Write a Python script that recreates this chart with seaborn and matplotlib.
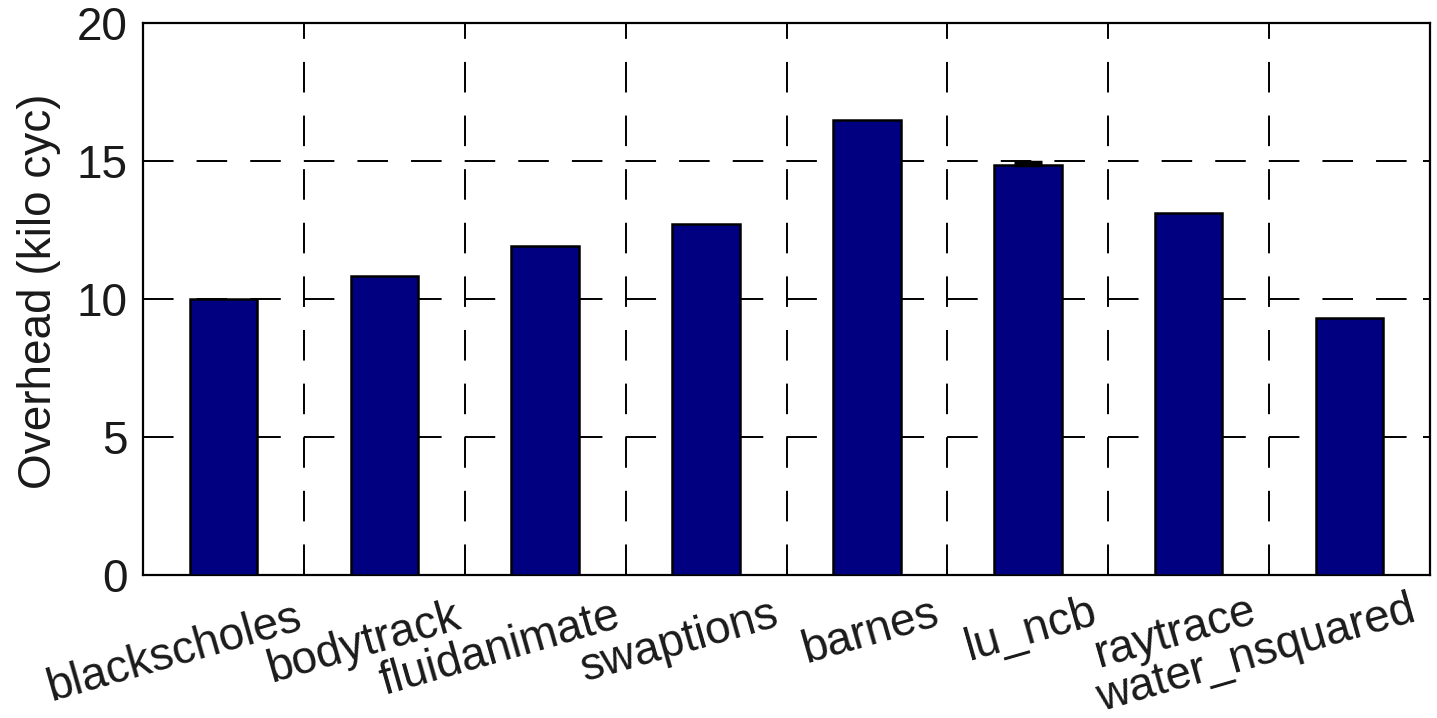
import numpy as np
import pandas as pd
import matplotlib
matplotlib.use("Agg")
import matplotlib.pyplot as plt
from matplotlib import transforms
import seaborn as sns

# ---- data ----
benchmarks = ["blackscholes", "bodytrack", "fluidanimate", "swaptions",
              "barnes", "lu_ncb", "raytrace", "water_nsquared"]
overhead = [10.0, 10.85, 11.92, 12.72, 16.5, 14.86, 13.12, 9.33]
overhead_err = [0.0, 0.0, 0.0, 0.0, 0.0, 0.12, 0.0, 0.0]
y_ticks = [0, 5, 10, 15, 20]
y_label = "Overhead (kilo cyc)"

sns.set_theme(style="white")
plt.rcParams["font.family"] = ["Liberation Sans", "DejaVu Sans"]
plt.rcParams["lines.scale_dashes"] = False

W, H = 1437, 718
fig = plt.figure(figsize=(W / 100, H / 100), dpi=100)
ax = fig.add_axes([143 / W, 1 - 575 / H, (1430 - 143) / W, (575 - 23.4) / H])

df = pd.DataFrame({"benchmark": benchmarks, "overhead": overhead})
sns.barplot(data=df, x="benchmark", y="overhead", color="#000080",
            saturation=1, width=0.42, edgecolor="black", linewidth=1.8,
            errorbar=None, ax=ax, zorder=3)

vals = np.array(overhead)
errs = np.array(overhead_err)
idx = np.nonzero(errs)[0]
ax.errorbar(idx, vals[idx], yerr=[np.zeros(len(idx)), errs[idx]], fmt="none",
            ecolor="black", elinewidth=1.5, capsize=10, capthick=2.5, zorder=4)

ax.set_xlim(-0.5, len(benchmarks) - 0.5)
ax.set_ylim(0, 20)
ax.set_yticks(y_ticks)
ax.set_xticks(range(len(benchmarks)))
ax.set_xticklabels([])
ax.set_xticks(np.arange(0.5, len(benchmarks) - 0.5, 1), minor=True)
ax.set_xlabel("")

ax.tick_params(axis="x", which="major", length=0)
ax.tick_params(axis="x", which="minor", direction="in", length=4, width=1.4,
               top=True, bottom=True, color="black")
ax.tick_params(axis="y", which="major", direction="in", length=5, width=1.4,
               left=True, right=True, labelsize=33, pad=11, color="black",
               labelcolor="#1a1a1a")

dash = (0, (22.0, 16.6))
ax.set_axisbelow(True)
ax.yaxis.grid(True, which="major", color="black", linestyle=dash, linewidth=1.4)
ax.xaxis.grid(False, which="major")
ax.xaxis.grid(True, which="minor", color="black", linestyle=dash, linewidth=1.4)

for s in ax.spines.values():
    s.set_visible(True)
    s.set_color("black")
    s.set_linewidth(1.6)

# rotated category labels
for i, name in enumerate(benchmarks):
    off = transforms.ScaledTranslation((71 - 1.7 * i) / 100, -(21 - 1.2 * i) / 100,
                                       fig.dpi_scale_trans)
    ax.text(i, 0, name, transform=ax.get_xaxis_transform() + off,
            rotation=16, ha="right", va="top", rotation_mode="anchor",
            fontsize=33, color="#1a1a1a")

ax.set_ylabel(y_label, fontsize=33, color="#1a1a1a")
ax.yaxis.set_label_coords((61 - 143) / 1287, 0.515)

fig.savefig("out.png", dpi=100)
